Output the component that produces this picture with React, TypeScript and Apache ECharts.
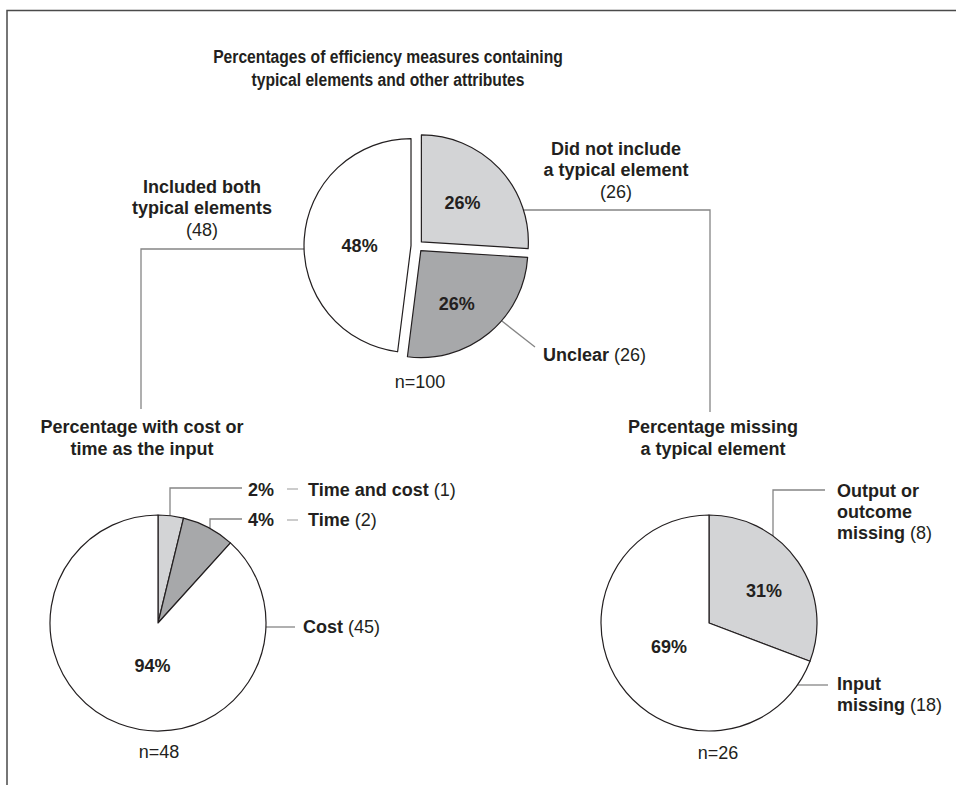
import React, { useEffect, useRef } from "react";
import * as echarts from "echarts";

// ---------- data ----------
const chartTitle = ["Percentages of efficiency measures containing", "typical elements and other attributes"];

const mainCategories = ["Did not include a typical element", "Unclear", "Included both typical elements"];
const mainCounts = [26, 26, 48];
const mainPercents = [26, 26, 48];

const inputTitle = ["Percentage with cost or", "time as the input"];
const inputCategories = ["Time and cost", "Time", "Cost"];
const inputCounts = [1, 2, 45];
const inputPercents = [2, 4, 94];
const inputSliceShares = [3.8, 7.9, 88.3]; // angular shares as drawn in the picture

const missingTitle = ["Percentage missing", "a typical element"];
const missingCategories = ["Output or outcome missing", "Input missing"];
const missingCounts = [8, 18];
const missingPercents = [31, 69];

const sampleSizes = [100, 48, 26];

// ---------- style ----------
const TEXT = "#231f20";
const LINE = "#858585";
const FONT = '"Liberation Sans", Arial, Helvetica, sans-serif';
const LIGHT = "#d3d4d6";
const DARK = "#a7a8aa";
const WHITE = "#ffffff";

const MAIN = { cx: 417, cy: 246, r: 107, off: 6 };
const LEFT = { cx: 158, cy: 623, r: 108 };
const RIGHT = { cx: 709, cy: 623, r: 108 };

function angles(values: number[]) {
  const total = values.reduce((a, b) => a + b, 0);
  let acc = 0;
  return values.map((v) => {
    const s = (acc / total) * 360;
    acc += v;
    const e = (acc / total) * 360;
    return { s, e, m: (s + e) / 2 };
  });
}
function pt(cx: number, cy: number, r: number, deg: number): [number, number] {
  const a = (deg * Math.PI) / 180;
  return [cx + r * Math.sin(a), cy - r * Math.cos(a)];
}

const rich = {
  b: { fontFamily: FONT, fontSize: 18, fontWeight: "bold", color: TEXT },
  r: { fontFamily: FONT, fontSize: 18, fontWeight: "normal", color: TEXT },
};

function txt(text: string, x: number, y: number, align = "center", bold = true, scaleX = 1) {
  return {
    type: "text",
    x,
    y,
    scaleX,
    silent: true,
    style: {
      text,
      fill: TEXT,
      font: `${bold ? "bold " : ""}18px ${FONT}`,
      align,
      verticalAlign: "middle",
      textAlign: align,
      textVerticalAlign: "middle",
    },
  };
}
function richTxt(text: string, x: number, y: number, align = "left") {
  return {
    type: "text",
    x,
    y,
    silent: true,
    style: {
      text,
      rich,
      fill: TEXT,
      font: `18px ${FONT}`,
      align,
      verticalAlign: "middle",
      textAlign: align,
      textVerticalAlign: "middle",
    },
  };
}
function poly(points: number[][], color = LINE, w = 1.3) {
  return { type: "polyline", silent: true, shape: { points }, style: { stroke: color, lineWidth: w, fill: null } };
}

export default function App() {
  const ref = useRef<HTMLDivElement>(null);
  useEffect(() => {
    document.body.style.margin = "0";
    if (!ref.current) return;
    const chart = echarts.init(ref.current, undefined, { renderer: "svg" });

    const mainColors = [LIGHT, DARK, WHITE];
    const inputColors = [LIGHT, DARK, WHITE];
    const missingColors = [LIGHT, WHITE];

    const mainAng = angles(mainCounts);

    // slice centres of the exploded main pie
    const sc = mainAng.map((a) => {
      const o = pt(0, 0, MAIN.off, a.m);
      return [MAIN.cx + o[0], MAIN.cy + o[1]];
    });

    // connectors
    const yTop = 210;
    const c1x = sc[0][0] + Math.sqrt(MAIN.r * MAIN.r - (yTop - sc[0][1]) ** 2);
    const yLeft = 249;
    const c2x = sc[2][0] - Math.sqrt(MAIN.r * MAIN.r - (yLeft - sc[2][1]) ** 2);
    const unclearStart = pt(sc[1][0], sc[1][1], MAIN.r, 131);

    const lx1 = 170;
    const ly1 = LEFT.cy - Math.sqrt(LEFT.r ** 2 - (lx1 - LEFT.cx) ** 2);
    const lx2 = 210;
    const ly2 = LEFT.cy - Math.sqrt(LEFT.r ** 2 - (lx2 - LEFT.cx) ** 2);
    const costY = 627;
    const costX = LEFT.cx + Math.sqrt(LEFT.r ** 2 - (costY - LEFT.cy) ** 2);

    const rx1 = 773;
    const ry1 = RIGHT.cy - Math.sqrt(RIGHT.r ** 2 - (rx1 - RIGHT.cx) ** 2);
    const inY = 685;
    const inX = RIGHT.cx + Math.sqrt(RIGHT.r ** 2 - (inY - RIGHT.cy) ** 2);

    const pieBase = {
      type: "pie",
      silent: true,
      startAngle: 90,
      clockwise: true,
      avoidLabelOverlap: false,
      labelLine: { show: false },
      emphasis: { disabled: true },
      label: {
        position: "inside",
        fontFamily: FONT,
        fontSize: 18,
        fontWeight: "bold",
        color: TEXT,
      },
    };

    const option = {
      animation: false,
      backgroundColor: "#ffffff",
      series: [
        {
          ...pieBase,
          name: "main",
          center: [MAIN.cx, MAIN.cy],
          radius: [0, MAIN.r],
          selectedMode: "multiple",
          selectedOffset: MAIN.off,
          label: { ...pieBase.label, formatter: (p: any) => mainPercents[p.dataIndex] + "%" },
          labelLayout: (p: any) => (p.dataIndex === 1 ? { dy: 10 } : p.dataIndex === 2 ? { dx: 5, dy: 4 } : {}),
          data: mainCategories.map((name, i) => ({
            name,
            value: mainCounts[i],
            selected: true,
            itemStyle: { color: mainColors[i], borderColor: TEXT, borderWidth: 1.2 },
            select: { itemStyle: { color: mainColors[i], borderColor: TEXT, borderWidth: 1.2 } },
          })),
        },
        {
          ...pieBase,
          name: "input",
          center: [LEFT.cx, LEFT.cy],
          radius: [0, LEFT.r],
          selectedMode: false,
          label: {
            ...pieBase.label,
            formatter: (p: any) => (p.dataIndex === 2 ? inputPercents[2] + "%" : ""),
          },
          labelLayout: (p: any) => (p.dataIndex === 2 ? { dx: 15, dy: -10 } : {}),
          data: inputCategories.map((name, i) => ({
            name,
            value: inputSliceShares[i],
            itemStyle: { color: inputColors[i], borderColor: TEXT, borderWidth: 1.2 },
          })),
        },
        {
          ...pieBase,
          name: "missing",
          center: [RIGHT.cx, RIGHT.cy],
          radius: [0, RIGHT.r],
          selectedMode: false,
          label: { ...pieBase.label, formatter: (p: any) => missingPercents[p.dataIndex] + "%" },
          labelLayout: (p: any) => (p.dataIndex === 0 ? { dx: 8 } : { dx: 7, dy: -8 }),
          data: missingCategories.map((name, i) => ({
            name,
            value: missingCounts[i],
            itemStyle: { color: missingColors[i], borderColor: TEXT, borderWidth: 1.2 },
          })),
        },
      ],
      graphic: [
        // frame
        poly([[7, 785], [7, 10.5], [956, 10.5]], "#4a4a4a", 1.5),
        // title
        txt(chartTitle[0], 388, 57, "center", true, 0.87),
        txt(chartTitle[1], 388, 80, "center", true, 0.87),
        // main pie connectors
        poly([[c1x, yTop], [710, yTop], [710, 412]]),
        poly([[c2x, yLeft], [141, yLeft], [141, 409]]),
        poly([unclearStart, [535, 347]]),
        // main labels
        txt("Did not include", 616, 149),
        txt("a typical element", 616, 170),
        txt(`(${mainCounts[0]})`, 616, 192, "center", false),
        txt("Included both", 202, 187),
        txt("typical elements", 202, 208),
        txt(`(${mainCounts[2]})`, 202, 230, "center", false),
        richTxt(`{b|${mainCategories[1]}}{r| (${mainCounts[1]})}`, 543, 355),
        txt(`n=${sampleSizes[0]}`, 420, 382, "center", false),
        // left pie
        txt(inputTitle[0], 142, 427),
        txt(inputTitle[1], 142, 449),
        poly([[lx1, ly1], [lx1, 488], [242, 488]]),
        poly([[lx2, ly2], [lx2, 519], [242, 519]]),
        poly([[287, 489], [298, 489]], "#999", 1),
        poly([[287, 520], [298, 520]], "#999", 1),
        richTxt(`{b|${inputPercents[0]}%}`, 248, 490),
        richTxt(`{b|${inputCategories[0]}}{r| (${inputCounts[0]})}`, 308, 490),
        richTxt(`{b|${inputPercents[1]}%}`, 248, 520),
        richTxt(`{b|${inputCategories[1]}}{r| (${inputCounts[1]})}`, 308, 520),
        poly([[costX, costY], [295, costY]]),
        richTxt(`{b|${inputCategories[2]}}{r| (${inputCounts[2]})}`, 303, costY),
        txt(`n=${sampleSizes[1]}`, 159, 752, "center", false),
        // right pie
        txt(missingTitle[0], 713, 427),
        txt(missingTitle[1], 713, 449),
        poly([[rx1, ry1], [rx1, 490], [825, 490]]),
        richTxt("{b|Output or}", 837, 491),
        richTxt("{b|outcome}", 837, 512),
        richTxt(`{b|missing}{r| (${missingCounts[0]})}`, 837, 533),
        poly([[inX, inY], [828, inY]]),
        richTxt("{b|Input}", 837, 684),
        richTxt(`{b|missing}{r| (${missingCounts[1]})}`, 837, 705),
        txt(`n=${sampleSizes[2]}`, 718, 753, "center", false),
      ],
    };
    chart.setOption(option as any);
    return () => chart.dispose();
  }, []);
  return <div ref={ref} style={{ width: 956, height: 785 }} />;
}
